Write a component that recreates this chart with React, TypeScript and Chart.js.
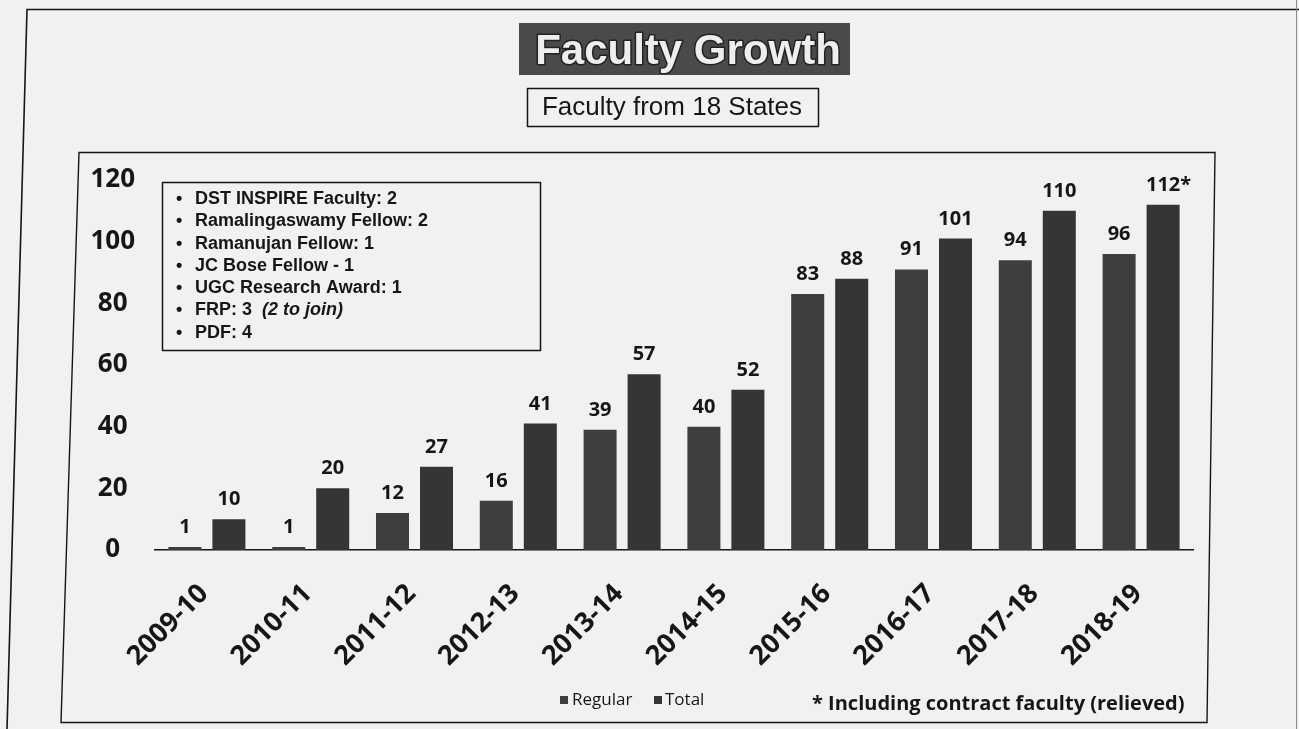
import React, { useEffect, useRef } from "react";
import { Chart, registerables } from "chart.js";

Chart.register(...registerables);

const categories = ["2009-10", "2010-11", "2011-12", "2012-13", "2013-14", "2014-15", "2015-16", "2016-17", "2017-18", "2018-19"];
const regularValues = [1, 1, 12, 16, 39, 40, 83, 91, 94, 96];
const totalValues = [10, 20, 27, 41, 57, 52, 88, 101, 110, 112];
const totalLabelMarks = ["", "", "", "", "", "", "", "", "", "*"];
const yTickValues = [0, 20, 40, 60, 80, 100, 120];
const seriesNames = ["Regular", "Total"];
const chartTitle = "Faculty Growth";
const chartSubtitle = "Faculty from 18 States";
const awardItems = [
  "DST INSPIRE Faculty: 2",
  "Ramalingaswamy Fellow: 2",
  "Ramanujan Fellow: 1",
  "JC Bose Fellow - 1",
  "UGC Research Award: 1",
  "FRP: 3",
  "PDF: 4",
];
const awardNotes = ["", "", "", "", "", "(2 to join)", ""];
const footnote = "* Including contract faculty (relieved)";

const W = 1299;
const H = 729;
const INK = "#161616";
const BG = "#f1f1ef";
const REG_COLOR = "#3e3e3e";
const TOT_COLOR = "#353535";
const SANS = "'Open Sans', 'Liberation Sans', sans-serif";
const ARIAL = "'Liberation Sans', Arial, sans-serif";

const decorPlugin = {
  id: "decor",
  beforeDraw(chart: any) {
    const ctx = chart.ctx as CanvasRenderingContext2D;
    ctx.save();
    ctx.fillStyle = BG;
    ctx.fillRect(0, 0, chart.width, chart.height);

    // outer page frame
    ctx.strokeStyle = INK;
    ctx.lineWidth = 1.6;
    ctx.beginPath();
    ctx.moveTo(7, H);
    ctx.lineTo(27, 9.5);
    ctx.lineTo(W, 9.5);
    ctx.stroke();
    ctx.strokeStyle = "#8a8a8a";
    ctx.lineWidth = 1;
    ctx.beginPath();
    ctx.moveTo(1296.5, 0);
    ctx.lineTo(1296.5, H);
    ctx.stroke();

    // chart frame
    ctx.strokeStyle = INK;
    ctx.lineWidth = 1.4;
    ctx.beginPath();
    ctx.moveTo(79, 152.5);
    ctx.lineTo(1215, 152.5);
    ctx.lineTo(1207, 722.5);
    ctx.lineTo(61, 722.5);
    ctx.closePath();
    ctx.stroke();

    // title
    ctx.fillStyle = "#4a4a4a";
    ctx.fillRect(519, 23, 331, 52);
    ctx.font = `bold 42px ${ARIAL}`;
    ctx.textAlign = "center";
    ctx.textBaseline = "alphabetic";
    ctx.lineJoin = "round";
    ctx.lineWidth = 3;
    ctx.strokeStyle = "#222222";
    ctx.strokeText(chartTitle, 688, 64);
    ctx.fillStyle = "#eeeeee";
    ctx.fillText(chartTitle, 688, 64);

    // subtitle box
    ctx.lineWidth = 1.5;
    ctx.strokeStyle = INK;
    ctx.strokeRect(527.5, 88.5, 291, 38);
    ctx.fillStyle = INK;
    ctx.font = `26px ${ARIAL}`;
    ctx.textBaseline = "middle";
    ctx.fillText(chartSubtitle, 672, 108);

    // awards box
    ctx.strokeRect(162.5, 182.5, 378, 168);
    ctx.textAlign = "left";
    awardItems.forEach((t, i) => {
      const y = 199 + i * 22.3;
      ctx.font = `bold 18px ${ARIAL}`;
      ctx.fillText("\u2022", 176, y);
      ctx.fillText(t, 195, y);
      if (awardNotes[i]) {
        const w = ctx.measureText(t + "  ").width;
        ctx.font = `italic bold 18px ${ARIAL}`;
        ctx.fillText(awardNotes[i], 195 + w, y);
      }
    });

    // bottom legend
    ctx.font = `17px ${SANS}`;
    ctx.fillStyle = REG_COLOR;
    ctx.fillRect(560, 696, 8, 8);
    ctx.fillStyle = INK;
    ctx.fillText(seriesNames[0], 572, 700);
    ctx.fillStyle = TOT_COLOR;
    ctx.fillRect(654, 696, 8, 8);
    ctx.fillStyle = INK;
    ctx.fillText(seriesNames[1], 665, 700);

    // footnote
    ctx.font = `bold 20px ${SANS}`;
    ctx.fillText(footnote, 812, 704);
    ctx.restore();
  },
  afterDatasetsDraw(chart: any) {
    const ctx = chart.ctx as CanvasRenderingContext2D;
    ctx.save();
    ctx.font = `bold 20px ${SANS}`;
    ctx.fillStyle = INK;
    ctx.textBaseline = "alphabetic";
    chart.data.datasets.forEach((ds: any, di: number) => {
      chart.getDatasetMeta(di).data.forEach((bar: any, i: number) => {
        const num = String(ds.data[i]);
        const y = bar.y - 14;
        ctx.textAlign = "center";
        ctx.fillText(num, bar.x, y);
        const mark = di === 1 ? totalLabelMarks[i] : "";
        if (mark) {
          ctx.textAlign = "left";
          ctx.fillText(mark, bar.x + ctx.measureText(num).width / 2, y);
        }
      });
    });
    ctx.restore();
  },
};

export default function App() {
  const ref = useRef<HTMLCanvasElement>(null);
  useEffect(() => {
    const canvas = ref.current;
    if (!canvas) return;
    const chart = new Chart(canvas, {
      type: "bar",
      data: {
        labels: categories,
        datasets: [
          {
            label: seriesNames[0],
            data: regularValues,
            backgroundColor: REG_COLOR,
            categoryPercentage: 0.848,
            barPercentage: 0.75,
          },
          {
            label: seriesNames[1],
            data: totalValues,
            backgroundColor: TOT_COLOR,
            categoryPercentage: 0.848,
            barPercentage: 0.75,
          },
        ],
      },
      options: {
        responsive: false,
        animation: false,
        devicePixelRatio: 1,
        layout: { padding: { left: 85, right: 106, top: 180, bottom: 0 } },
        plugins: {
          legend: { display: false },
          title: { display: false },
          tooltip: { enabled: false },
        },
        scales: {
          x: {
            grid: { display: false, drawTicks: false },
            border: { display: true, color: INK, width: 1.5 },
            ticks: {
              autoSkip: false,
              maxRotation: 45,
              minRotation: 45,
              padding: 28,
              labelOffset: -3,
              color: INK,
              font: { family: SANS, weight: "bold", size: 27 },
            },
            afterFit: (s: any) => {
              s.height = 179;
            },
          },
          y: {
            min: 0,
            max: 120,
            grid: { display: false, drawTicks: false },
            border: { display: false },
            afterBuildTicks: (s: any) => {
              s.ticks = yTickValues.map((v) => ({ value: v }));
            },
            ticks: {
              crossAlign: "center",
              padding: 20,
              color: INK,
              font: { family: SANS, weight: "bold", size: 26 },
            },
            afterFit: (s: any) => {
              s.width = 70;
            },
          },
        },
      },
      plugins: [decorPlugin],
    } as any);
    return () => chart.destroy();
  }, []);
  return (
    <div style={{ position: "fixed", left: 0, top: 0, width: W, height: H, background: BG }}>
      <canvas ref={ref} width={W} height={H} style={{ display: "block", width: W, height: H }} />
    </div>
  );
}
